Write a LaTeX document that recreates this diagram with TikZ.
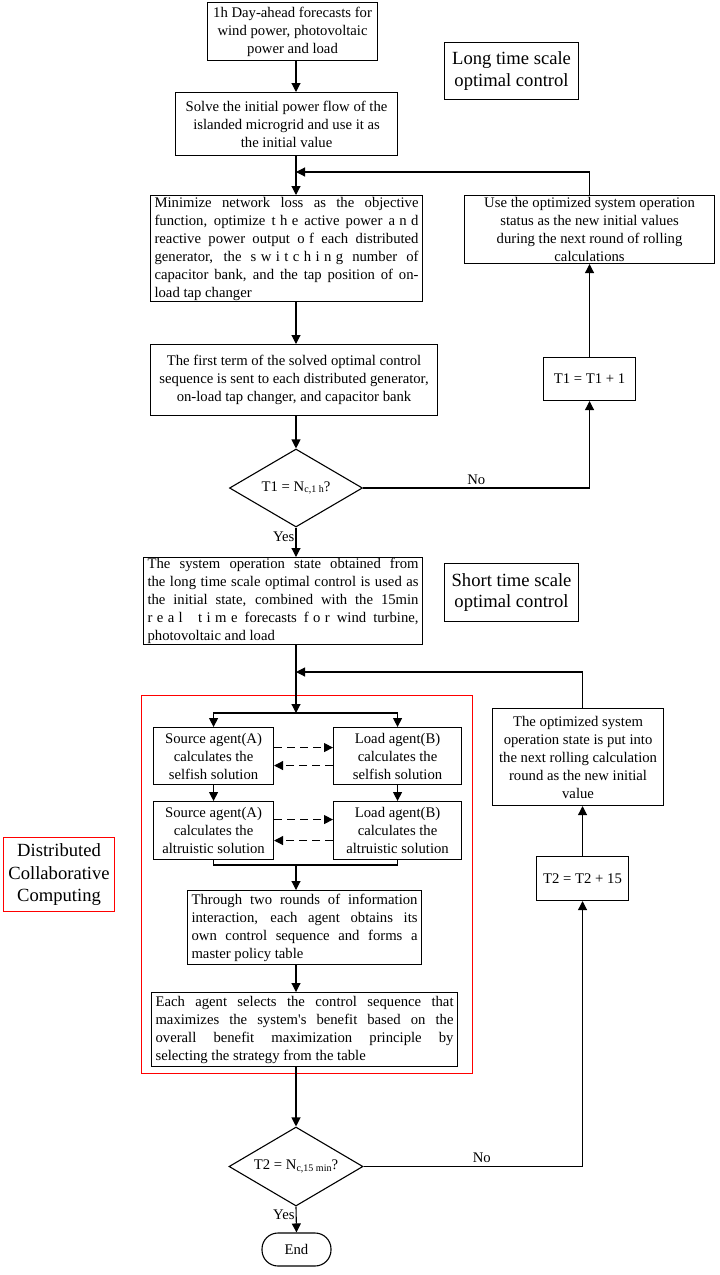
\documentclass[tikz,border=0pt]{standalone}
\usepackage{fontspec}
\setmainfont{Liberation Serif}[Ligatures=TeXOff]
\usetikzlibrary{arrows.meta,shapes.geometric}
\newcommand\LS[1]{{\addfontfeatures{LetterSpace=30}#1}}
\begin{document}
\begin{tikzpicture}[x=1pt,y=-1pt,
  pbox/.style={draw, line width=1.1pt, inner xsep=4pt, inner ysep=0pt, font=\fontsize{14.7}{18}\selectfont, align=center, anchor=north west},
  jbox/.style={pbox, align=justify, text width=#1, execute at begin node={\tolerance=10000\hbadness=10000\pretolerance=-1\hyphenpenalty=10000}},
  ttl/.style={draw, line width=1.1pt, inner sep=0pt, font=\fontsize{18.6}{21.5}\selectfont, align=center, anchor=north west},
  dec/.style={draw, line width=1.1pt, shape=diamond, inner sep=0pt, aspect=1.7, font=\fontsize{14.7}{18}\selectfont},
  arr/.style={line width=1.1pt, -{Triangle[length=9pt,width=9pt]}},
  darr/.style={arr, dash pattern=on 8pt off 5pt},
  ln/.style={line width=1.1pt},
  lbl/.style={font=\fontsize{14.7}{18}\selectfont, inner sep=1pt}
]
\useasboundingbox (0,0) rectangle (720,1275);
\fill[white] (0,0) rectangle (720,1275);

% group frame
\node[draw=red, line width=1.1pt, minimum width=331pt, minimum height=378pt, inner sep=0pt, anchor=north west] (grp) at (141,695) {};
\node[ttl, draw=red, minimum width=111pt, minimum height=74pt, font=\fontsize{18.6}{22.7}\selectfont] (dist) at (3,837) {Distributed\\Collaborative\\Computing};

\coordinate (mc) at (296,0);

\node[pbox, minimum width=170pt, minimum height=58pt] (b1) at (207,2) {1h Day-ahead forecasts for\\wind power, photovoltaic\\power and load};
\node[pbox, minimum width=222pt, minimum height=63pt] (b2) at (175,92) {Solve the initial power flow of the\\islanded microgrid and use it as\\the initial value};
\node[jbox=264pt, minimum width=272pt, minimum height=106pt] (b3) at (150,195) {Minimize network loss as the objective\linebreak
function, optimize \LS{the} active power \LS{and}\linebreak
reactive power output \LS{of} each distributed\linebreak
generator, the \LS{switching} number of\linebreak
capacitor bank, and the tap position of on-\linebreak
load tap changer};
\node[pbox, minimum width=287pt, minimum height=71pt] (b4) at (150,344) {The first term of the solved optimal control\\sequence is sent to each distributed generator,\\on-load tap changer, and capacitor bank};
\node[dec, minimum width=133pt, minimum height=78pt] (d1) at (296,488) {T1 = N\raisebox{-1.5pt}{\fontsize{10}{10}\selectfont c,1 h}?};
\node[jbox=271pt, minimum width=279pt, minimum height=87pt] (b5) at (143,557) {The system operation state obtained from\linebreak
the long time scale optimal control is used as\linebreak
the initial state, combined with the 15min\linebreak
\LS{real time} forecasts \LS{for} wind turbine,\linebreak
photovoltaic and load};

\node[ttl, minimum width=134pt, minimum height=57pt] (long) at (444,42) {Long time scale\\optimal control};
\node[ttl, minimum width=134pt, minimum height=58pt] (short) at (444,563) {Short time scale\\optimal control};

\node[pbox, minimum width=250pt, minimum height=68pt] (use) at (464,195) {Use the optimized system operation\\status as the new initial values\\during the next round of rolling\\calculations};
\node[pbox, minimum width=92pt, minimum height=43pt] (t1) at (543,357) {T1 = T1 + 1};

\node[pbox, minimum width=120pt, minimum height=57pt] (a1) at (153,727) {Source agent(A)\\calculates the\\selfish solution};
\node[pbox, minimum width=128pt, minimum height=57pt] (l1) at (333,727) {Load agent(B)\\calculates the\\selfish solution};
\node[pbox, minimum width=120pt, minimum height=58pt] (a2) at (153,801) {Source agent(A)\\calculates the\\altruistic solution};
\node[pbox, minimum width=128pt, minimum height=58pt] (l2) at (333,801) {Load agent(B)\\calculates the\\altruistic solution};

\node[jbox=226pt, minimum width=234pt, minimum height=74pt] (thr) at (187,890) {Through two rounds of information\linebreak
interaction, each agent obtains its\linebreak
own control sequence and forms a\linebreak
master policy table};
\node[jbox=298pt, minimum width=306pt, minimum height=74pt] (each) at (151,992) {Each agent selects the control sequence that\linebreak
maximizes the system's benefit based on the\linebreak
overall benefit maximization principle by\linebreak
selecting the strategy from the table};
\node[dec, minimum width=134pt, minimum height=79pt] (d2) at (296,1166.5) {T2 = N\raisebox{-1.5pt}{\fontsize{10}{10}\selectfont c,15 min}?};
\node[pbox, rounded corners=16pt, minimum width=69pt, minimum height=33pt, anchor=center] (end) at (296.5,1249.5) {End};

\node[pbox, minimum width=171pt, minimum height=97pt] (opt) at (492,708) {The optimized system\\operation state is put into\\the next rolling calculation\\round as the new initial\\value};
\node[pbox, minimum width=92pt, minimum height=44pt] (t2) at (536,856) {T2 = T2 + 15};

% coordinates
\coordinate (m1) at (296,172);
\coordinate (m2) at (296,672);
\coordinate (split) at (296,713);
\coordinate (join) at (296,865);

% main column
\draw[arr] (b1.south -| mc) -- (b2.north -| mc);
\draw[arr] (b2.south -| mc) -- (b3.north -| mc);
\draw[arr] (b3.south -| mc) -- (b4.north -| mc);
\draw[arr] (b4.south -| mc) -- (d1.north);
\draw[arr] (d1.south) -- node[lbl, pos=0.3, left] {Yes} (b5.north -| mc);
\draw[arr] (d1.east) -| node[lbl, pos=0.25, above=2pt] {No} (t1.south);
\draw[arr] (t1.north) -- (use.south -| t1.north);
\draw[arr] (use.north -| t1.north) |- (m1);

\draw[arr] (b5.south -| mc) -- (split);
\draw[arr] (split) -| (a1.north);
\draw[arr] (split) -| (l1.north);
\draw[arr] (a1.south) -- (a2.north);
\draw[arr] (l1.south) -- (l2.north);
\draw[darr] ([yshift=8.5pt]a1.east) -- ([yshift=8.5pt]l1.west);
\draw[darr] ([yshift=-9.5pt]l1.west) -- ([yshift=-9.5pt]a1.east);
\draw[darr] ([yshift=11pt]a2.east) -- ([yshift=11pt]l2.west);
\draw[darr] ([yshift=-10pt]l2.west) -- ([yshift=-10pt]a2.east);
\draw[ln] (a2.south) |- (join) -| (l2.south);
\draw[arr] (join) -- (thr.north -| mc);
\draw[arr] (thr.south -| mc) -- (each.north -| mc);
\draw[arr] (each.south -| mc) -- (d2.north);
\draw[arr] (d2.south) -- node[lbl, pos=0.3, left] {Yes} (end.north);
\draw[arr] (d2.east) -| node[lbl, pos=0.27, above=2pt] {No} (t2.south);
\draw[arr] (t2.north) -- (opt.south -| t2.north);
\draw[arr] (opt.north -| t2.north) |- (m2);
\end{tikzpicture}
\end{document}
